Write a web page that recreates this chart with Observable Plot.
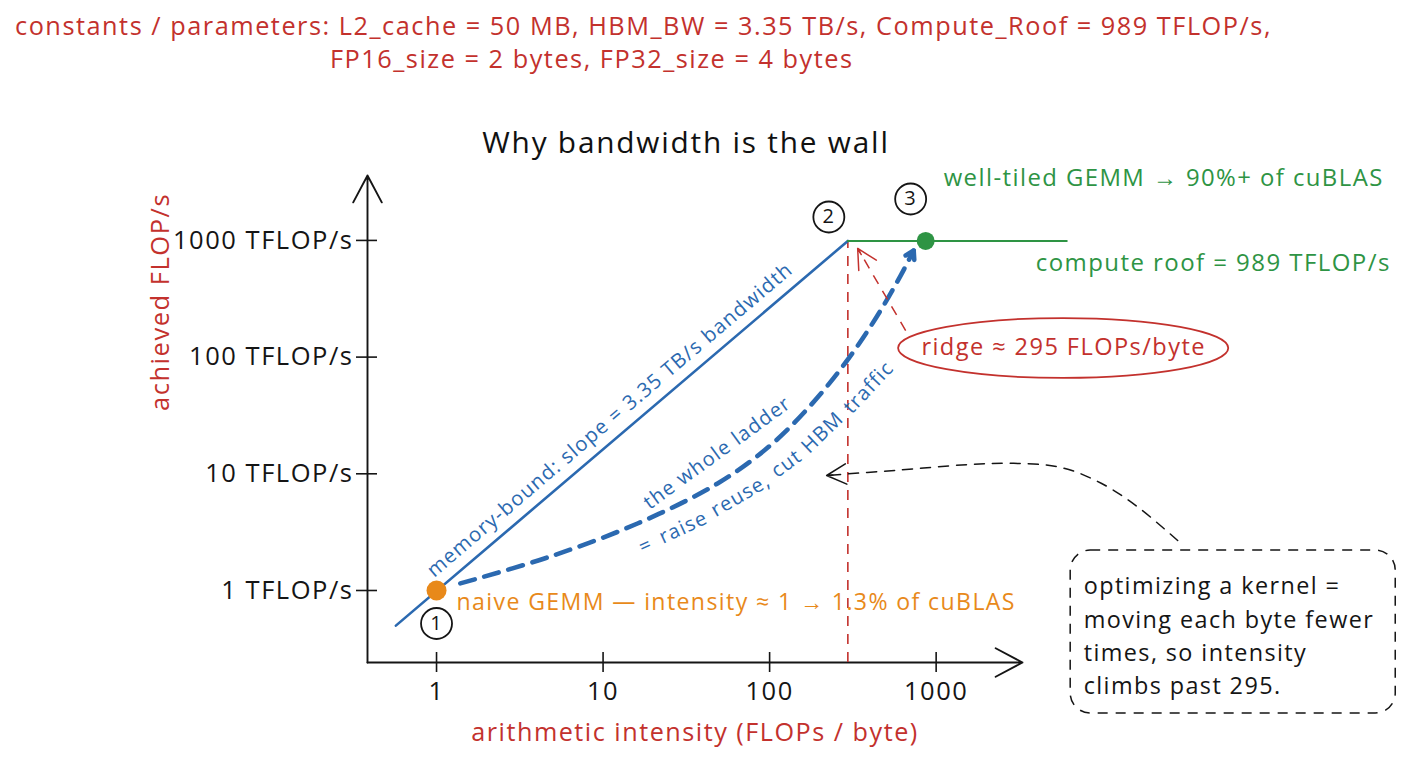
<!DOCTYPE html>
<html>
<head>
<meta charset="utf-8">
<script src="https://cdn.jsdelivr.net/npm/d3@7"></script>
<script src="https://cdn.jsdelivr.net/npm/@observablehq/plot@0.6"></script>
<style>
  body { margin: 0; background: #fff; font-family: "Open Sans", sans-serif; }
  #page { position: relative; width: 1408px; height: 768px; overflow: hidden; }
  .hdr { position: absolute; white-space: nowrap; color: #c3312d; font-size: 25.3px; line-height: 1; letter-spacing: 0.06em; }
  #title { position: absolute; left: 0; width: 1372px; text-align: center; top: 127px; font-size: 29.8px; color: #111; line-height: 1; letter-spacing: 0.06em; }
  #chart { position: absolute; left: 0; top: 160px; }
  #chart svg text { letter-spacing: 0.06em; }
</style>
</head>
<body>
<div id="page">
  <div class="hdr" id="c1" style="left:15px; top:13px;"></div>
  <div class="hdr" id="c2" style="left:330px; top:46px;"></div>
  <div id="title"></div>
  <div id="chart"></div>
</div>
<script>
// ---- text ----
const constantsLines = [
  "constants / parameters: L2_cache = 50 MB, HBM_BW = 3.35 TB/s, Compute_Roof = 989 TFLOP/s,",
  "FP16_size = 2 bytes, FP32_size = 4 bytes"
];
const title = "Why bandwidth is the wall";
const xLabel = "arithmetic intensity (FLOPs / byte)";
const yLabel = "achieved FLOP/s";

// ---- axes ----
const xTicks = [1, 10, 100, 1000];
const xTickLabels = ["1", "10", "100", "1000"];
const yTicks = [1, 10, 100, 1000];
const yTickLabels = ["1 TFLOP/s", "10 TFLOP/s", "100 TFLOP/s", "1000 TFLOP/s"];
const xDomain = [0.385, 3300];   // FLOPs / byte
const yDomain = [0.2415, 3600];  // TFLOP/s

// ---- roofline ----
const ridgeIntensity = 295;      // FLOPs / byte
const computeRoof = 989;         // TFLOP/s
const memoryBound = [{x: 0.57, y: 0.5}, {x: ridgeIntensity, y: computeRoof}];
const computeBound = [{x: ridgeIntensity, y: computeRoof}, {x: 6080, y: computeRoof}];

// ---- kernels ----
const naive = {x: 1, y: 1};
const tiled = {x: 865, y: computeRoof};

// optimisation path from the naive kernel up toward the roof
const ladder = [
  {x: 1.39, y: 1.15}, {x: 4.64, y: 1.92}, {x: 16.1, y: 3.75}, {x: 48.7, y: 8.26},
  {x: 101, y: 17.5}, {x: 176, y: 38.5}, {x: 286, y: 89.9}, {x: 433, y: 214},
  {x: 612, y: 500}, {x: 733, y: 819}
];
// note callout pointing back at the ridge
const notePath = [
  {x: 28200, y: 2.68}, {x: 16400, y: 5.14}, {x: 9860, y: 8.26}, {x: 5670, y: 11.3},
  {x: 2920, y: 12.3}, {x: 1570, y: 12.0}, {x: 564, y: 10.7}, {x: 220, y: 9.67}
];
const ridgePointer = {x1: 656, y1: 169, x2: 338, y2: 853};

// ---- annotation text ----
const naiveLabel = "naive GEMM — intensity ≈ 1 → 1.3% of cuBLAS";
const tiledLabel = "well-tiled GEMM → 90%+ of cuBLAS";
const roofLabel = "compute roof = 989 TFLOP/s";
const ridgeLabel = "ridge ≈ 295 FLOPs/byte";
const memoryLabel = "memory-bound: slope = 3.35 TB/s bandwidth";
const ladderLabel1 = "the whole ladder";
// second ladder line follows the bend of the path, word by word
const ladderWords = ["=", "raise", "reuse,", "cut", "HBM", "traffic"];
const ladderWordX = [18.0, 30.4, 67.0, 126.5, 208, 393];
const ladderWordY = [2.43, 3.47, 6.52, 12.25, 22.6, 54.9];
const ladderWordAngle = [-24, -25, -30, -36, -44, -47];
const noteLabel = "optimizing a kernel =\nmoving each byte fewer\ntimes, so intensity\nclimbs past 295.";

// label anchors (data units)
const memoryLabelAt = {x: 11, y: 29};
const ladderLabel1At = {x: 48.5, y: 15.1};
const ridgeLabelAt = {x: 5830, y: 121};
const ridgeOval = {x1: 595, x2: 57150, y1: 65.6, y2: 214};
const noteBox = {x1: 6425, x2: 575000, y1: 0.0883, y2: 2.2};
const noteTextAt = {x: 7690, y: 0.428};

// ---- colours ----
const RED = "#c3312d", BLUE = "#2b69b0", GREEN = "#2e9444", ORANGE = "#e8891a", INK = "#151515";

document.getElementById("c1").textContent = constantsLines[0];
document.getElementById("c2").textContent = constantsLines[1];
document.getElementById("title").textContent = title;

const ladderText = ladderWords.map((w, i) => ({w, x: ladderWordX[i], y: ladderWordY[i], a: ladderWordAngle[i]}));
const last = ladder.length - 1;

function circled(p, label, dx, dy) {
  return [
    Plot.dot([p], {x: "x", y: "y", r: 15.5, fill: "white", stroke: INK, strokeWidth: 1.8, dx, dy}),
    Plot.text([p], {x: "x", y: "y", text: () => label, dx, dy, fontSize: 20, fill: INK})
  ];
}

const chart = Plot.plot({
  width: 1408,
  height: 608,
  marginLeft: 367,
  marginRight: 386,
  marginTop: 15,
  marginBottom: 106,
  x: {type: "log", domain: xDomain},
  y: {type: "log", domain: yDomain},
  style: {fontFamily: "Open Sans, sans-serif", fontSize: "22px", background: "transparent", overflow: "visible", color: INK},
  marks: [
    // axes with arrowheads
    Plot.arrow([
      {x1: xDomain[0], y1: yDomain[0], x2: xDomain[0], y2: yDomain[1]},
      {x1: xDomain[0], y1: yDomain[0], x2: xDomain[1], y2: yDomain[0]}
    ], {x1: "x1", y1: "y1", x2: "x2", y2: "y2", stroke: INK, strokeWidth: 1.9, headLength: 24, headAngle: 56}),
    Plot.axisY({ticks: yTicks, tickSize: 21, dx: 10, tickPadding: 3, label: null,
      tickFormat: d => yTickLabels[yTicks.indexOf(d)], fontSize: 25.5, stroke: INK, strokeWidth: 1.6}),
    Plot.axisX({ticks: xTicks, tickSize: 20, dy: -10, tickPadding: 9, label: null,
      tickFormat: d => xTickLabels[xTicks.indexOf(d)], fontSize: 25.5, stroke: INK, strokeWidth: 1.6}),

    // ridge
    Plot.ruleX([ridgeIntensity], {y1: yDomain[0], y2: computeRoof, stroke: RED, strokeWidth: 1.6, strokeDasharray: "10,8"}),

    // roofline
    Plot.line(memoryBound, {x: "x", y: "y", stroke: BLUE, strokeWidth: 2.6}),
    Plot.line(computeBound, {x: "x", y: "y", stroke: GREEN, strokeWidth: 2.2}),

    // optimisation ladder
    Plot.line(ladder, {x: "x", y: "y", curve: "catmull-rom", stroke: BLUE, strokeWidth: 4.6, strokeDasharray: "15,10"}),
    Plot.arrow([{x1: ladder[last - 1].x, y1: ladder[last - 1].y, x2: ladder[last].x, y2: ladder[last].y}],
      {x1: "x1", y1: "y1", x2: "x2", y2: "y2", stroke: BLUE, strokeWidth: 4.6, headLength: 25, headAngle: 62, insetStart: 22}),

    // ridge pointer
    Plot.link([ridgePointer], {x1: "x1", y1: "y1", x2: "x2", y2: "y2", stroke: RED, strokeWidth: 1.5, strokeDasharray: "10,8"}),
    Plot.arrow([ridgePointer], {x1: "x1", y1: "y1", x2: "x2", y2: "y2", stroke: RED, strokeWidth: 1.5, headLength: 22, headAngle: 55, insetStart: 88}),
    Plot.rect([ridgeOval], {x1: "x1", x2: "x2", y1: "y1", y2: "y2", rx: 165, ry: 30, fill: "none", stroke: RED, strokeWidth: 1.8}),
    Plot.text([ridgeLabelAt], {x: "x", y: "y", text: () => ridgeLabel, fill: RED, fontSize: 23.6}),

    // note callout
    Plot.line(notePath, {x: "x", y: "y", curve: "catmull-rom", stroke: INK, strokeWidth: 1.5, strokeDasharray: "10,8"}),
    Plot.arrow([{x1: notePath[6].x, y1: notePath[6].y, x2: notePath[7].x, y2: notePath[7].y}],
      {x1: "x1", y1: "y1", x2: "x2", y2: "y2", stroke: INK, strokeWidth: 1.5, headLength: 22, headAngle: 55, insetStart: 62}),
    Plot.rect([noteBox], {x1: "x1", x2: "x2", y1: "y1", y2: "y2", rx: 20, fill: "white", stroke: INK, strokeWidth: 1.5, strokeDasharray: "10,8"}),
    Plot.text([noteTextAt], {x: "x", y: "y", text: () => noteLabel, textAnchor: "start", lineAnchor: "middle", lineHeight: 1.42, fontSize: 23.4, fill: INK}),

    // kernel points
    Plot.dot([naive], {x: "x", y: "y", r: 10, fill: ORANGE}),
    Plot.dot([tiled], {x: "x", y: "y", r: 9, fill: GREEN}),
    ...circled(naive, "1", 0, 33),
    ...circled({x: ridgeIntensity, y: computeRoof}, "2", -19, -24),
    ...circled(tiled, "3", -15, -42),

    // labels
    Plot.text([naive], {x: "x", y: "y", text: () => naiveLabel, dx: 20, dy: 12, textAnchor: "start", fill: ORANGE, fontSize: 23.1}),
    Plot.text([tiled], {x: "x", y: "y", text: () => tiledLabel, dx: 18, dy: -63, textAnchor: "start", fill: GREEN, fontSize: 23.9}),
    Plot.text([computeBound[1]], {x: "x", y: "y", text: () => roofLabel, dx: -31, dy: 22, textAnchor: "start", fill: GREEN, fontSize: 24}),
    Plot.text([memoryLabelAt], {x: "x", y: "y", text: () => memoryLabel, rotate: -40.4, fill: BLUE, fontSize: 20.2}),
    Plot.text([ladderLabel1At], {x: "x", y: "y", text: () => ladderLabel1, rotate: -36, fill: BLUE, fontSize: 20}),
    Plot.text(ladderText, {x: "x", y: "y", text: "w", rotate: "a", fill: BLUE, fontSize: 20}),

    // axis titles
    Plot.text([yLabel], {frameAnchor: "left", text: d => d, dx: -207, dy: -8, rotate: -90, fill: RED, fontSize: 25.5}),
    Plot.text([xLabel], {frameAnchor: "bottom", text: d => d, dy: 78, fill: RED, fontSize: 25.2})
  ]
});
document.getElementById("chart").appendChild(chart);
</script>
</body>
</html>
